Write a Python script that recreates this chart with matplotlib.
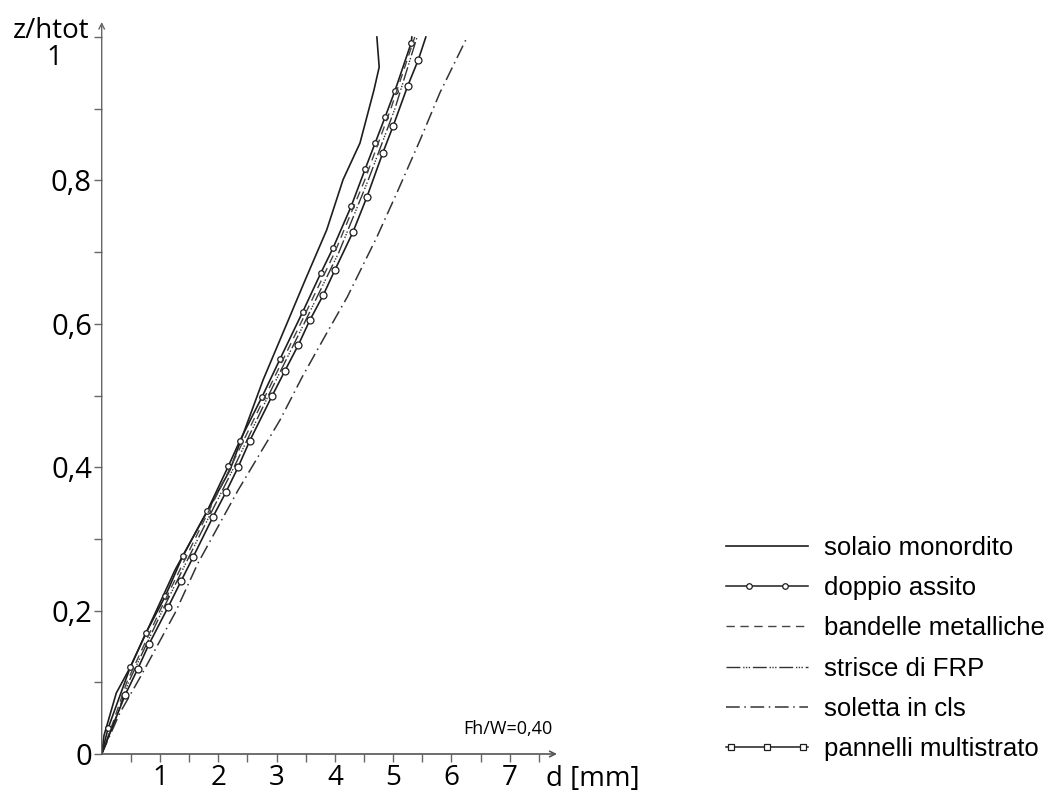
import matplotlib
matplotlib.use('Agg')
import matplotlib.pyplot as plt
from matplotlib.lines import Line2D
from matplotlib.legend_handler import HandlerLine2D, HandlerTuple

plt.rcParams['font.family'] = ['Open Sans', 'DejaVu Sans']

# solaio monordito
z_sol = [0, 0.026, 0.085, 0.121, 0.257, 0.396, 0.522, 0.601, 0.661, 0.731, 0.801, 0.852, 0.926, 0.958, 1.0]
d_sol = [0, 0.04, 0.25, 0.49, 1.26, 2.20, 2.77, 3.18, 3.49, 3.86, 4.14, 4.43, 4.67, 4.76, 4.72]

# doppio assito
z_dop = [0, 0.036, 0.121, 0.169, 0.220, 0.276, 0.339, 0.401, 0.437, 0.498, 0.551, 0.617,
         0.671, 0.706, 0.764, 0.816, 0.852, 0.888, 0.925, 0.992, 1.0]
d_dop = [0, 0.11, 0.49, 0.76, 1.09, 1.39, 1.81, 2.17, 2.37, 2.75, 3.06, 3.45,
         3.76, 3.97, 4.28, 4.52, 4.69, 4.86, 5.03, 5.31, 5.32]

# bandelle metalliche
z_ban = [0, 0.05, 0.1, 0.2, 0.3, 0.4, 0.5, 0.6, 0.7, 0.8, 0.9, 1.0]
d_ban = [0, 0.22, 0.43, 1.00, 1.60, 2.21, 2.81, 3.41, 4.00, 4.51, 4.96, 5.37]

# strisce di FRP
z_frp = [0, 0.05, 0.1, 0.2, 0.3, 0.4, 0.5, 0.6, 0.7, 0.8, 0.9, 1.0]
d_frp = [0, 0.24, 0.46, 1.04, 1.65, 2.27, 2.86, 3.47, 4.07, 4.57, 5.03, 5.41]

# soletta in cls
z_cls = [0, 0.057, 0.107, 0.197, 0.266, 0.368, 0.466, 0.526, 0.587, 0.637, 0.721, 0.782, 0.856, 0.922, 1.0]
d_cls = [0, 0.31, 0.66, 1.26, 1.65, 2.34, 3.06, 3.44, 3.86, 4.21, 4.72, 5.06, 5.46, 5.80, 6.27]

# pannelli multistrato
z_pan = [0, 0.082, 0.119, 0.153, 0.205, 0.241, 0.275, 0.331, 0.365, 0.400, 0.437, 0.499, 0.534,
         0.570, 0.605, 0.640, 0.675, 0.728, 0.777, 0.838, 0.876, 0.932, 0.968, 1.0]
d_pan = [0, 0.40, 0.62, 0.81, 1.14, 1.36, 1.57, 1.91, 2.13, 2.34, 2.54, 2.92, 3.14,
         3.37, 3.57, 3.80, 4.00, 4.31, 4.55, 4.82, 5.00, 5.25, 5.43, 5.56]

labels = ['solaio monordito', 'doppio assito', 'bandelle metalliche',
          'strisce di FRP', 'soletta in cls', 'pannelli multistrato']

yticks = [0, 0.1, 0.2, 0.3, 0.4, 0.5, 0.6, 0.7, 0.8, 0.9, 1.0]
ylabels = ['0', '', '0,2', '', '0,4', '', '0,6', '', '0,8', '', '']

fig = plt.figure(figsize=(10.52, 7.94), dpi=100)
ax = fig.add_axes([101.7 / 1052, 1 - 754 / 794, (557 - 101.7) / 1052, (754 - 22) / 794])

c = '#1e1e1e'
l1, = ax.plot(d_sol, z_sol, color=c, lw=1.2)
l2, = ax.plot(d_dop, z_dop, color=c, lw=1.2, marker='o', ms=4,
              mfc='white', mec=c, mew=0.9, markevery=list(range(1, len(d_dop) - 1)))
l3, = ax.plot(d_ban, z_ban, color='#444444', lw=1.0, ls=(0, (6, 4)))
l4, = ax.plot(d_frp, z_frp, color='#333333', lw=1.0, ls=(0, (10, 2, 1, 1, 1, 1, 1, 2)))
l5, = ax.plot(d_cls, z_cls, color='#333333', lw=1.1, ls=(0, (9, 3, 1, 3)))
l6, = ax.plot(d_pan, z_pan, color=c, lw=1.2, marker='o', ms=5,
              mfc='white', mec=c, mew=0.9, markevery=list(range(1, len(d_pan) - 1)))

ax.set_xlim(0, 7.81)
ax.set_ylim(0, (754 - 22) / 717)

for s in ['top', 'right', 'left', 'bottom']:
    ax.spines[s].set_visible(False)

# axes with arrows
ax.annotate('', xy=(0, 1), xytext=(0, 0), xycoords='axes fraction',
            arrowprops=dict(arrowstyle='->', lw=1.0, color='#666666', shrinkA=0, shrinkB=0))
ax.annotate('', xy=(1, 0), xytext=(0, 0), xycoords='axes fraction',
            arrowprops=dict(arrowstyle='->', lw=1.2, color='#555555', shrinkA=0, shrinkB=0))

ax.set_xticks([0.5 * i for i in range(1, 16)])
ax.set_xticklabels([str(i // 2) if i % 2 == 0 else '' for i in range(1, 16)], fontsize=20)
ax.set_yticks(yticks)
ax.set_yticklabels(ylabels, fontsize=21)
ax.tick_params(axis='both', direction='out', length=6, width=1.0, color='#666666', pad=1)
ax.tick_params(axis='x', pad=1)

ax.annotate('1', xy=(0, 1.0), xytext=(-34, -15), textcoords='offset points',
            ha='center', va='center', fontsize=20)
fig.text(13 / 1052, 1 - 31 / 794, 'z/htot', fontsize=20, ha='left', va='center')
fig.text(546 / 1052, 1 - 779 / 794, 'd [mm]', fontsize=20, ha='left', va='center')
ax.text(0.99, 0.022, 'Fh/W=0,40', transform=ax.transAxes, fontsize=13, ha='right', va='bottom')

# legend proxies: full-length line plus markers placed inside it
dop_line = Line2D([], [], color=c, lw=1.1)
dop_mark = Line2D([], [], ls='none', marker='o', ms=4, mfc='white', mec=c, mew=0.9)
pan_line = Line2D([], [], color=c, lw=1.1)
pan_mark = Line2D([], [], ls='none', marker='s', ms=4, mfc='white', mec=c, mew=0.9)

leg = fig.legend([l1, (dop_line, dop_mark), l3, l4, l5, (pan_line, pan_mark)], labels,
                 loc='upper left', bbox_to_anchor=(726 / 1052, 1 - 536 / 794),
                 frameon=False, borderpad=0, borderaxespad=0,
                 handlelength=3.2, handletextpad=0.6, labelspacing=0.63,
                 prop={'family': 'Liberation Sans', 'size': 18.5},
                 handler_map={tuple: HandlerTuple(ndivide=1, pad=0),
                              dop_mark: HandlerLine2D(numpoints=2, marker_pad=0.9),
                              pan_mark: HandlerLine2D(numpoints=3, marker_pad=0.2)})

fig.savefig('out.png', dpi=100)
